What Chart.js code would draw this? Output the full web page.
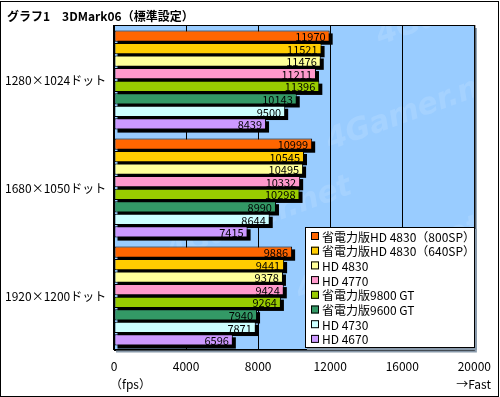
<!DOCTYPE html>
<html>
<head>
<meta charset="utf-8">
<script src="https://cdn.jsdelivr.net/npm/chart.js@4/dist/chart.umd.min.js"></script>
<style>
  html, body { margin: 0; padding: 0; background: #fff; }
</style>
</head>
<body>
<canvas id="grafico" width="500" height="397"></canvas>
<script>
const titulo = 'グラフ1　3DMark06（標準設定）';
const resolucoes = ['1280×1024ドット', '1680×1050ドット', '1920×1200ドット'];
const placas = [
  '省電力版HD 4830（800SP）',
  '省電力版HD 4830（640SP）',
  'HD 4830',
  'HD 4770',
  '省電力版9800 GT',
  '省電力版9600 GT',
  'HD 4730',
  'HD 4670'
];
const cores = ['#FF6600', '#FFCC00', '#FFFF99', '#FF99CC', '#99CC00', '#339966', '#CCFFFF', '#CC99FF'];
const hd4830_800 = [11970, 10999, 9886];
const hd4830_640 = [11521, 10545, 9441];
const hd4830 = [11476, 10495, 9378];
const hd4770 = [11211, 10332, 9424];
const gt9800 = [11396, 10298, 9264];
const gt9600 = [10143, 8990, 7940];
const hd4730 = [9500, 8644, 7871];
const hd4670 = [8439, 7415, 6596];
const valores = [hd4830_800, hd4830_640, hd4830, hd4770, gt9800, gt9600, hd4730, hd4670];

const fonte = '"Noto Sans CJK JP", "DejaVu Sans", sans-serif';

// fundo azul, sombra das barras, rotulos, legenda e moldura
const desenhos = {
  id: 'desenhos',
  beforeDraw(chart) {
    const { ctx, chartArea: a } = chart;
    ctx.save();
    ctx.fillStyle = '#99CCFF';
    ctx.fillRect(a.left, a.top, a.right - a.left, a.bottom - a.top);
    // marca d'agua
    ctx.fillStyle = 'rgba(255,255,255,0.12)';
    ctx.font = 'bold italic 30px "DejaVu Sans", sans-serif';
    [[380, 45], [330, 150], [300, 300], [170, 260]].forEach(p => {
      ctx.save();
      ctx.translate(p[0], p[1]);
      ctx.rotate(-0.35);
      ctx.fillText('4Gamer.net', 0, 0);
      ctx.restore();
    });
    ctx.restore();
  },
  beforeDatasetsDraw(chart) {
    const { ctx } = chart;
    ctx.save();
    ctx.fillStyle = '#000';
    chart.data.datasets.forEach((ds, i) => {
      chart.getDatasetMeta(i).data.forEach(el => {
        const h = el.height;
        ctx.fillRect(el.base + 3, el.y - h / 2 + 3, el.x - el.base, h);
      });
    });
    ctx.restore();
  },
  afterDatasetsDraw(chart) {
    const { ctx } = chart;
    ctx.save();
    ctx.font = '11px ' + fonte;
    ctx.fillStyle = '#000';
    ctx.textAlign = 'right';
    ctx.textBaseline = 'middle';
    chart.data.datasets.forEach((ds, i) => {
      chart.getDatasetMeta(i).data.forEach((el, j) => {
        ctx.fillText(String(ds.data[j]), el.x - 4, el.y + 1);
      });
    });
    ctx.restore();
  },
  afterDraw(chart) {
    const { ctx, chartArea: a } = chart;
    ctx.save();
    // moldura da area do grafico
    ctx.strokeStyle = '#8899aa';
    ctx.lineWidth = 2;
    ctx.beginPath();
    ctx.moveTo(a.right + 1.5, a.top + 2);
    ctx.lineTo(a.right + 1.5, a.bottom + 1.5);
    ctx.lineTo(a.left + 2, a.bottom + 1.5);
    ctx.stroke();
    ctx.strokeStyle = '#000';
    ctx.lineWidth = 1;
    ctx.strokeRect(a.left - 0.5, a.top - 0.5, a.right - a.left + 1, a.bottom - a.top);

    // legenda
    const lx = 305, ly = 227, lw = 170, lh = 121;
    ctx.fillStyle = '#8899aa';
    ctx.fillRect(lx + 2, ly + 2, lw, lh);
    ctx.fillStyle = '#fff';
    ctx.fillRect(lx, ly, lw, lh);
    ctx.strokeStyle = '#000';
    ctx.strokeRect(lx + 0.5, ly + 0.5, lw - 1, lh - 1);
    ctx.font = '12px ' + fonte;
    ctx.textAlign = 'left';
    ctx.textBaseline = 'middle';
    chart.data.datasets.forEach((ds, i) => {
      const cy = ly + 9 + i * 14.7;
      ctx.fillStyle = ds.backgroundColor;
      ctx.fillRect(311, cy - 4, 8, 8);
      ctx.strokeStyle = '#000';
      ctx.strokeRect(311.5, cy - 3.5, 7, 7);
      ctx.fillStyle = '#000';
      ctx.fillText(ds.label, 322, cy + 1);
    });

    // titulo e textos do eixo
    ctx.font = 'bold 12px ' + fonte;
    ctx.fillText(titulo, 7, 16);
    ctx.font = '12px ' + fonte;
    ctx.fillText('（fps）', 110, 384);
    ctx.textAlign = 'right';
    ctx.fillText('→Fast', 491, 384);

    // moldura externa
    ctx.strokeStyle = '#000';
    ctx.strokeRect(0.5, 1.5, 498, 395);
    ctx.restore();
  }
};

new Chart(document.getElementById('grafico').getContext('2d'), {
  type: 'bar',
  data: {
    labels: resolucoes,
    datasets: placas.map((nome, i) => ({
      label: nome,
      data: valores[i],
      backgroundColor: cores[i],
      borderColor: '#000',
      borderWidth: 1,
      borderSkipped: false,
      categoryPercentage: 0.93,
      barPercentage: 0.9
    }))
  },
  options: {
    indexAxis: 'y',
    responsive: false,
    animation: false,
    layout: { padding: { left: 5, top: 26, right: 24, bottom: 0 } },
    scales: {
      x: {
        min: 0,
        max: 20000,
        afterFit: s => { s.height = 47; },
        ticks: {
          stepSize: 4000,
          color: '#000',
          padding: 9,
          font: { family: fonte, size: 12 },
          callback: v => String(v)
        },
        grid: { color: '#000', drawTicks: false },
        border: { display: true, color: '#000' }
      },
      y: {
        afterFit: s => { s.width = 109; },
        ticks: { color: '#000', crossAlign: 'far', font: { family: fonte, size: 12 } },
        grid: { display: false },
        border: { display: true, color: '#000' }
      }
    },
    plugins: {
      legend: { display: false },
      tooltip: { enabled: false }
    }
  },
  plugins: [desenhos]
});
</script>
</body>
</html>
